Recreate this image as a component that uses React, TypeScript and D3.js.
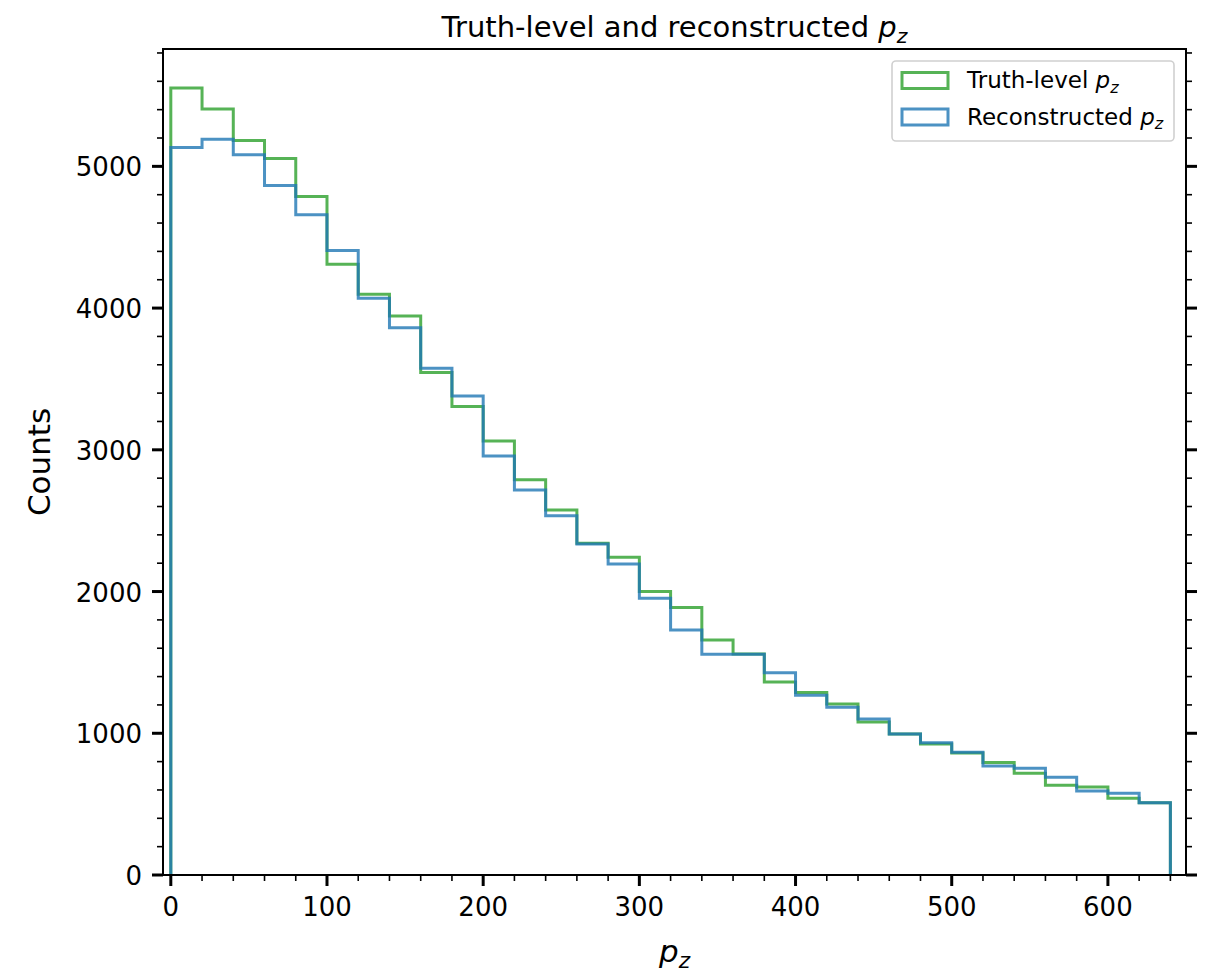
import React from "react";
import * as d3 from "d3";

const binEdges = [0, 20, 40, 60, 80, 100, 120, 140, 160, 180, 200, 220, 240, 260, 280, 300, 320, 340, 360, 380, 400, 420, 440, 460, 480, 500, 520, 540, 560, 580, 600, 620, 640];
const truthCounts = [5552, 5404, 5182, 5055, 4787, 4310, 4098, 3945, 3545, 3305, 3063, 2788, 2576, 2341, 2242, 2000, 1887, 1658, 1560, 1361, 1287, 1207, 1080, 995, 924, 860, 793, 718, 634, 621, 541, 510];
const recoCounts = [5133, 5192, 5081, 4865, 4658, 4406, 4070, 3862, 3576, 3380, 2957, 2717, 2534, 2336, 2195, 1952, 1729, 1557, 1557, 1427, 1268, 1183, 1101, 995, 933, 866, 769, 753, 689, 593, 577, 510];
const xTicks = [0, 100, 200, 300, 400, 500, 600];
const yTicks = [0, 1000, 2000, 3000, 4000, 5000];
const seriesNames = ["Truth-level", "Reconstructed"];

const GREEN = "#2ca02c";
const BLUE = "#1f77b4";

const W = 1214, H = 978;
const L = 163, R = 1186, T = 49, B = 875;

function stepPath(counts: number[], x: d3.ScaleLinear<number, number>, y: d3.ScaleLinear<number, number>) {
  const pts: [number, number][] = [[x(binEdges[0]), y(0)]];
  counts.forEach((c, i) => {
    pts.push([x(binEdges[i]), y(c)]);
    pts.push([x(binEdges[i + 1]), y(c)]);
  });
  pts.push([x(binEdges[binEdges.length - 1]), y(0)]);
  return d3.line()(pts) as string;
}

function PZ({ size }: { size: number }) {
  return (
    <tspan fontStyle="italic">
      p<tspan fontSize={size * 0.7} dy={size * 0.2}>z</tspan>
    </tspan>
  );
}

export default function App() {
  const x = d3.scaleLinear().domain([-5, 650]).range([L, R]);
  const y = d3.scaleLinear().domain([0, 5828]).range([B, T]);
  const xMinor = d3.range(0, 641, 20).filter((v) => v % 100 !== 0 && x(v) <= R);
  const yMinor = d3.range(0, 5801, 200).filter((v) => v % 1000 !== 0);
  const font = "DejaVu Sans, sans-serif";
  const legendY = [80.5, 117];
  const colors = [GREEN, BLUE];

  return (
    <svg width={W} height={H} style={{ position: "absolute", left: 0, top: 0, background: "#fff" }} fontFamily={font}>
      <rect x={0} y={0} width={W} height={H} fill="#fff" />
      {/* histograms */}
      <path d={stepPath(truthCounts, x, y)} fill="none" stroke={GREEN} strokeOpacity={0.8} strokeWidth={3} strokeLinejoin="miter" />
      <path d={stepPath(recoCounts, x, y)} fill="none" stroke={BLUE} strokeOpacity={0.8} strokeWidth={3} strokeLinejoin="miter" />

      {/* spines */}
      <rect x={L} y={T} width={R - L} height={B - T} fill="none" stroke="#000" strokeWidth={2} />

      {/* x ticks */}
      {xTicks.map((v) => (
        <g key={"xt" + v}>
          <line x1={x(v)} x2={x(v)} y1={B} y2={B + 11} stroke="#000" strokeWidth={3} />
          <text x={x(v)} y={916} textAnchor="middle" fontSize={26}>{v}</text>
        </g>
      ))}
      {xMinor.map((v) => (
        <line key={"xm" + v} x1={x(v)} x2={x(v)} y1={B} y2={B + 6} stroke="#000" strokeWidth={1.6} />
      ))}

      {/* y ticks */}
      {yTicks.map((v) => (
        <g key={"yt" + v}>
          <line x1={L - 11} x2={L} y1={y(v)} y2={y(v)} stroke="#000" strokeWidth={3} />
          <line x1={R} x2={R + 11} y1={y(v)} y2={y(v)} stroke="#000" strokeWidth={3} />
          <text x={142} y={y(v) + 10} textAnchor="end" fontSize={26}>{v}</text>
        </g>
      ))}
      {yMinor.map((v) => (
        <g key={"ym" + v}>
          <line x1={L - 6} x2={L} y1={y(v)} y2={y(v)} stroke="#000" strokeWidth={1.6} />
          <line x1={R} x2={R + 6} y1={y(v)} y2={y(v)} stroke="#000" strokeWidth={1.6} />
        </g>
      ))}

      {/* axis labels */}
      <text x={(L + R) / 2} y={962} textAnchor="middle" fontSize={31}>
        <PZ size={31} />
      </text>
      <text transform={`translate(50, ${(T + B) / 2}) rotate(-90)`} textAnchor="middle" fontSize={31}>Counts</text>

      {/* title */}
      <text x={(L + R) / 2} y={37} textAnchor="middle" fontSize={29}>
        Truth-level and reconstructed <PZ size={29} />
      </text>

      {/* legend */}
      <rect x={892} y={61} width={282} height={80} rx={4} fill="#fff" fillOpacity={0.8} stroke="#d0d0d0" strokeWidth={1.6} />
      {seriesNames.map((name, i) => (
        <g key={name}>
          <rect x={902} y={legendY[i] - 8} width={46} height={16} fill="none" stroke={colors[i]} strokeOpacity={0.8} strokeWidth={3} />
          <text x={967} y={legendY[i] + 7.5} fontSize={23}>
            {name} <PZ size={23} />
          </text>
        </g>
      ))}
    </svg>
  );
}
